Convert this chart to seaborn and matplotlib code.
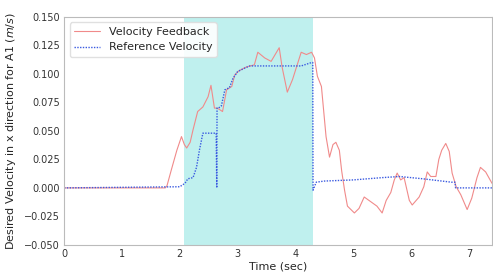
import numpy as np
import pandas as pd
import matplotlib
matplotlib.use("Agg")
import matplotlib.pyplot as plt
import seaborn as sns

# data
fb_t = [0, 1.75, 1.78, 1.85, 1.95, 2.03, 2.08, 2.12, 2.18, 2.23, 2.31, 2.40, 2.49, 2.54,
        2.60, 2.65, 2.74, 2.81, 2.90, 2.95, 3.03, 3.15, 3.29, 3.35, 3.47, 3.58, 3.72,
        3.77, 3.86, 3.95, 4.00, 4.10, 4.19, 4.28, 4.33, 4.38, 4.45, 4.53, 4.59, 4.65,
        4.70, 4.76, 4.80, 4.85, 4.90, 5.02, 5.10, 5.19, 5.30, 5.41, 5.50, 5.57, 5.65,
        5.71, 5.76, 5.82, 5.88, 5.97, 6.02, 6.14, 6.22, 6.28, 6.34, 6.43, 6.48, 6.53,
        6.60, 6.66, 6.71, 6.78, 6.86, 6.97, 7.05, 7.14, 7.20, 7.29, 7.40]
fb_v = [0, 0, 0.002, 0.015, 0.033, 0.045, 0.038, 0.035, 0.040, 0.051, 0.067, 0.071,
        0.080, 0.090, 0.070, 0.070, 0.067, 0.086, 0.089, 0.099, 0.103, 0.106, 0.108,
        0.119, 0.114, 0.111, 0.123, 0.106, 0.084, 0.095, 0.103, 0.119, 0.117, 0.119,
        0.114, 0.098, 0.089, 0.045, 0.027, 0.038, 0.040, 0.033, 0.015, -0.002, -0.016,
        -0.022, -0.018, -0.008, -0.012, -0.016, -0.022, -0.011, -0.004, 0.007, 0.013,
        0.007, 0.009, -0.011, -0.015, -0.008, 0.001, 0.014, 0.010, 0.010, 0.025, 0.033,
        0.039, 0.032, 0.013, 0.001, -0.006, -0.019, -0.009, 0.009, 0.018, 0.014, 0.004]

ref_t = [0, 2.00, 2.09, 2.14, 2.23, 2.29, 2.34, 2.40, 2.63, 2.64, 2.645, 2.67, 2.72,
         2.78, 2.86, 2.92, 3.00, 3.12, 3.21, 4.10, 4.28, 4.30, 4.305, 4.36, 4.50, 5.00,
         5.50, 5.80, 6.20, 6.70, 6.76, 6.77, 7.40]
ref_v = [0, 0.001, 0.004, 0.008, 0.009, 0.018, 0.033, 0.048, 0.048, 0.0, 0.070, 0.070,
         0.072, 0.086, 0.088, 0.096, 0.102, 0.105, 0.107, 0.107, 0.110, 0.110, -0.002,
         0.005, 0.006, 0.007, 0.009, 0.010, 0.008, 0.005, 0.005, 0.0, 0.0]

shade_start, shade_end = 2.07, 4.31

sns.set_style("white")

fig = plt.figure(figsize=(4.93, 2.73), dpi=100)
ax = fig.add_axes([0.13, 0.103, 0.868, 0.835])

ax.axvspan(shade_start, shade_end, color="#bff0ee", lw=0, zorder=0)

fb = pd.DataFrame({"t": fb_t, "v": fb_v})
ref = pd.DataFrame({"t": ref_t, "v": ref_v})
sns.lineplot(data=fb, x="t", y="v", ax=ax, sort=False, estimator=None,
             color="#f08a8a", lw=0.8, label="Velocity Feedback")
sns.lineplot(data=ref, x="t", y="v", ax=ax, sort=False, estimator=None,
             color="#3a5ae0", lw=1.0, linestyle=(0, (1, 1)), label="Reference Velocity")

ax.set_xlim(0, 7.4)
ax.set_ylim(-0.05, 0.15)
ax.set_yticks([-0.05, -0.025, 0, 0.025, 0.05, 0.075, 0.1, 0.125, 0.15])
ax.set_xticks(range(8))
ax.tick_params(labelsize=7, colors="#333333", length=0, pad=3)
ax.set_xlabel("Time (sec)", fontsize=8, labelpad=2)
ax.set_ylabel("Desired Velocity in x direction for A1 $(m/s)$", fontsize=8, labelpad=4)
for s in ax.spines.values():
    s.set_color("#bbbbbb")
    s.set_linewidth(0.8)

ax.legend(loc="upper left", fontsize=8, frameon=True, framealpha=0.9,
          edgecolor="#dddddd", borderpad=0.4, handlelength=2.3)

fig.savefig("out.png", dpi=100)
